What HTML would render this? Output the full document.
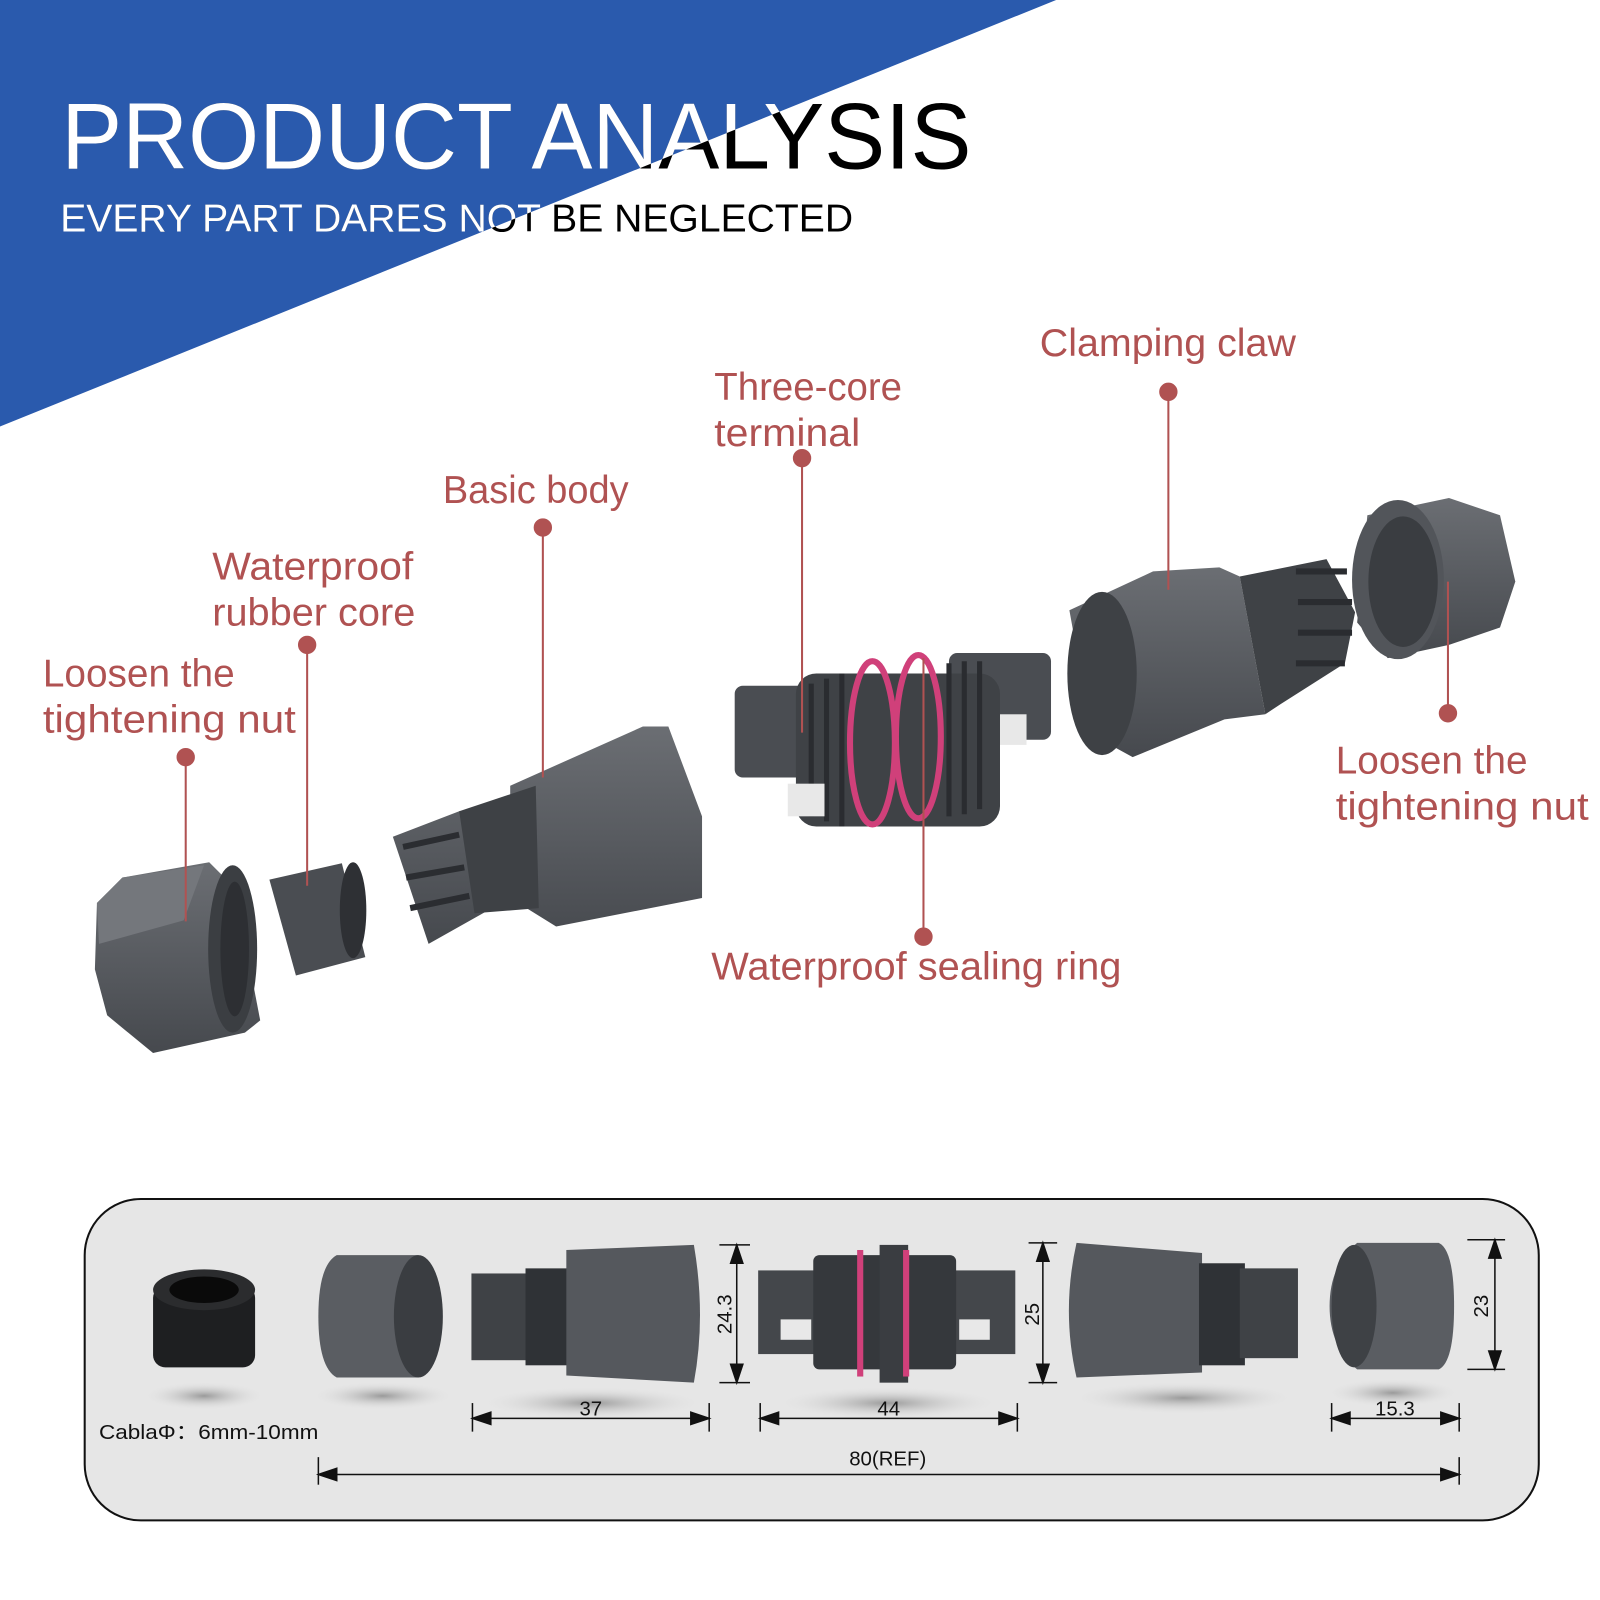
<!DOCTYPE html>
<html><head><meta charset="utf-8"><style>
html,body{margin:0;padding:0;background:#fff;width:1600px;height:1600px;overflow:hidden}
svg{display:block}
</style></head><body>
<svg width="1600" height="1600" viewBox="0 0 1568 1568" xmlns="http://www.w3.org/2000/svg" font-family="Liberation Sans, sans-serif">
<defs>
<clipPath id="tri"><polygon points="0,0 1035,0 0,418"/></clipPath>
<linearGradient id="g" x1="0" y1="0" x2="0" y2="1"><stop offset="0" stop-color="#6b6e73"/><stop offset="1" stop-color="#46494e"/></linearGradient>
<radialGradient id="sh"><stop offset="0" stop-color="#9a9a9a"/><stop offset="1" stop-color="#e6e6e6" stop-opacity="0"/></radialGradient>
</defs>
<polygon points="0,0 1035,0 0,418" fill="#2a5aad"/>
<g fill="#000">
<text x="60" y="165" font-size="92" textLength="892" lengthAdjust="spacingAndGlyphs">PRODUCT ANALYSIS</text>
<text x="59" y="227" font-size="38" textLength="777" lengthAdjust="spacingAndGlyphs">EVERY PART DARES NOT BE NEGLECTED</text>
</g>
<g fill="#fff" clip-path="url(#tri)">
<text x="60" y="165" font-size="92" textLength="892" lengthAdjust="spacingAndGlyphs">PRODUCT ANALYSIS</text>
<text x="59" y="227" font-size="38" textLength="777" lengthAdjust="spacingAndGlyphs">EVERY PART DARES NOT BE NEGLECTED</text>
</g>

<!-- exploded parts -->
<!-- left nut -->
<polygon points="95,885 120,860 205,845 230,870 255,1000 240,1012 150,1032 105,995 93,950" fill="url(#g)"/>
<polygon points="95,885 120,860 200,848 180,902 97,925" fill="#74777c"/>
<ellipse cx="228" cy="930" rx="24" ry="82" fill="#3b3e42"/>
<ellipse cx="230" cy="930" rx="14" ry="66" fill="#2d2f33"/>
<!-- rubber core -->
<polygon points="264,862 335,846 358,938 290,956" fill="#4a4d52"/>
<ellipse cx="346" cy="892" rx="13" ry="47" fill="#2e3034"/>
<!-- basic body -->
<polygon points="385,820 450,795 500,790 500,770 630,712 655,712 688,800 688,880 545,908 500,880 420,925 405,880" fill="url(#g)"/>
<polygon points="450,795 525,770 528,890 465,895" fill="#3e4145"/>
<g stroke="#2b2d31" stroke-width="6"><line x1="395" y1="830" x2="450" y2="818"/><line x1="398" y1="860" x2="455" y2="850"/><line x1="402" y1="890" x2="460" y2="878"/></g>
<!-- three-core terminal -->
<rect x="720" y="672" width="95" height="90" rx="8" fill="#4a4d52"/>
<rect x="930" y="640" width="100" height="85" rx="8" fill="#4a4d52"/>
<rect x="780" y="660" width="200" height="150" rx="20" fill="#3f4246"/>
<g stroke="#2a2c30" stroke-width="5" fill="none"><path d="M795 670 v130 M810 665 v140 M825 660 v150 M930 650 v150 M945 648 v150 M960 648 v145"/></g>
<ellipse cx="855" cy="728" rx="22" ry="80" fill="none" stroke="#d0407a" stroke-width="6"/>
<ellipse cx="900" cy="722" rx="22" ry="80" fill="none" stroke="#d0407a" stroke-width="6"/>
<rect x="772" y="768" width="36" height="32" fill="#e8e8e8"/>
<rect x="980" y="700" width="26" height="30" fill="#e8e8e8"/>
<!-- clamping claw -->
<polygon points="1048,598 1130,560 1195,556 1215,565 1240,700 1200,705 1110,742 1070,720" fill="url(#g)"/>
<ellipse cx="1080" cy="660" rx="34" ry="80" fill="#3e4145"/>
<polygon points="1215,565 1300,548 1328,600 1318,650 1255,690 1240,700" fill="#3f4246"/>
<g stroke="#2a2c30" stroke-width="6"><line x1="1270" y1="560" x2="1320" y2="560"/><line x1="1272" y1="590" x2="1325" y2="590"/><line x1="1272" y1="620" x2="1325" y2="620"/><line x1="1270" y1="650" x2="1318" y2="650"/></g>
<!-- right nut -->
<polygon points="1340,505 1420,488 1470,505 1485,570 1470,615 1420,632 1360,645 1330,610" fill="url(#g)"/>
<ellipse cx="1370" cy="568" rx="45" ry="78" fill="#52555a"/>
<ellipse cx="1375" cy="570" rx="34" ry="64" fill="#3a3d41"/>

<!-- labels -->
<g fill="#b05252" font-size="38">
<text x="42" y="673" textLength="188" lengthAdjust="spacingAndGlyphs">Loosen the</text>
<text x="42" y="718" textLength="248" lengthAdjust="spacingAndGlyphs">tightening nut</text>
<text x="208" y="568" textLength="197" lengthAdjust="spacingAndGlyphs">Waterproof</text>
<text x="208" y="613" textLength="199" lengthAdjust="spacingAndGlyphs">rubber core</text>
<text x="434" y="493" textLength="182" lengthAdjust="spacingAndGlyphs">Basic body</text>
<text x="700" y="392" textLength="184" lengthAdjust="spacingAndGlyphs">Three-core</text>
<text x="700" y="437" textLength="143" lengthAdjust="spacingAndGlyphs">terminal</text>
<text x="1019" y="349" textLength="251" lengthAdjust="spacingAndGlyphs">Clamping claw</text>
<text x="1309" y="758" textLength="188" lengthAdjust="spacingAndGlyphs">Loosen the</text>
<text x="1309" y="803" textLength="248" lengthAdjust="spacingAndGlyphs">tightening nut</text>
<text x="697" y="960" textLength="402" lengthAdjust="spacingAndGlyphs">Waterproof sealing ring</text>
</g>
<g stroke="#b05252" stroke-width="2" fill="#b05252">
<line x1="182" y1="742" x2="182" y2="903"/><circle cx="182" cy="742" r="8"/>
<line x1="301" y1="632" x2="301" y2="868"/><circle cx="301" cy="632" r="8"/>
<line x1="532" y1="517" x2="532" y2="762"/><circle cx="532" cy="517" r="8"/>
<line x1="786" y1="449" x2="786" y2="718"/><circle cx="786" cy="449" r="8"/>
<line x1="1145" y1="384" x2="1145" y2="578"/><circle cx="1145" cy="384" r="8"/>
<line x1="1419" y1="570" x2="1419" y2="699"/><circle cx="1419" cy="699" r="8"/>
<line x1="905" y1="645" x2="905" y2="918"/><circle cx="905" cy="918" r="8"/>
</g>

<!-- bottom panel -->
<rect x="83" y="1175" width="1425" height="315" rx="55" fill="#e6e6e6" stroke="#111" stroke-width="2"/>
<g>
<ellipse cx="200" cy="1368" rx="60" ry="14" fill="url(#sh)"/>
<ellipse cx="375" cy="1368" rx="70" ry="14" fill="url(#sh)"/>
<ellipse cx="580" cy="1375" rx="110" ry="16" fill="url(#sh)"/>
<ellipse cx="870" cy="1375" rx="110" ry="16" fill="url(#sh)"/>
<ellipse cx="1160" cy="1370" rx="110" ry="16" fill="url(#sh)"/>
<ellipse cx="1365" cy="1365" rx="65" ry="14" fill="url(#sh)"/>
</g>
<!-- cup -->
<rect x="150" y="1260" width="100" height="80" rx="12" fill="#1e1f21"/>
<ellipse cx="200" cy="1264" rx="50" ry="20" fill="#2b2c2e"/>
<ellipse cx="200" cy="1264" rx="34" ry="13" fill="#0a0a0a"/>
<!-- nut -->
<path d="M330 1230 H410 Q435 1290 410 1350 H330 Q312 1340 312 1290 Q312 1240 330 1230Z" fill="#5a5d62"/>
<ellipse cx="410" cy="1290" rx="24" ry="60" fill="#3a3d41"/>
<!-- body -->
<rect x="462" y="1248" width="60" height="85" fill="#3f4246"/>
<rect x="515" y="1243" width="45" height="95" fill="#2f3236"/>
<path d="M555 1225 L680 1220 Q692 1290 680 1355 L555 1348Z" fill="#55585d"/>
<!-- terminal -->
<rect x="743" y="1245" width="252" height="82" fill="#44474b"/>
<rect x="797" y="1230" width="140" height="112" rx="6" fill="#35383c"/>
<rect x="862" y="1220" width="28" height="135" fill="#3a3d41"/>
<rect x="840" y="1225" width="6" height="124" fill="#d0407a"/>
<rect x="885" y="1225" width="6" height="124" fill="#d0407a"/>
<rect x="765" y="1293" width="30" height="20" fill="#e8e8e8"/>
<rect x="940" y="1293" width="30" height="20" fill="#e8e8e8"/>
<!-- claw -->
<path d="M1055 1218 L1178 1228 L1178 1345 L1055 1350 Q1040 1285 1055 1218Z" fill="#55585d"/>
<rect x="1175" y="1238" width="45" height="100" fill="#2f3236"/>
<rect x="1215" y="1243" width="57" height="88" fill="#3f4246"/>
<!-- right nut -->
<path d="M1330 1218 H1410 Q1425 1225 1425 1280 Q1425 1335 1410 1342 H1330 Q1303 1320 1303 1280 Q1303 1240 1330 1218Z" fill="#5a5d62"/>
<ellipse cx="1327" cy="1280" rx="22" ry="60" fill="#3e4145"/>

<!-- dimensions -->
<g stroke="#111" stroke-width="1.5" fill="#111">
<line x1="722" y1="1220" x2="722" y2="1355"/><line x1="705" y1="1220" x2="735" y2="1220"/><line x1="705" y1="1355" x2="735" y2="1355"/>
<polygon points="722,1220 716,1238 728,1238"/><polygon points="722,1355 716,1337 728,1337"/>
<line x1="1022" y1="1218" x2="1022" y2="1355"/><line x1="1008" y1="1218" x2="1036" y2="1218"/><line x1="1008" y1="1355" x2="1036" y2="1355"/>
<polygon points="1022,1218 1016,1236 1028,1236"/><polygon points="1022,1355 1016,1337 1028,1337"/>
<line x1="1465" y1="1215" x2="1465" y2="1342"/><line x1="1438" y1="1215" x2="1475" y2="1215"/><line x1="1438" y1="1342" x2="1475" y2="1342"/>
<polygon points="1465,1215 1459,1233 1471,1233"/><polygon points="1465,1342 1459,1324 1471,1324"/>
<line x1="463" y1="1390" x2="695" y2="1390"/><line x1="463" y1="1375" x2="463" y2="1403"/><line x1="695" y1="1375" x2="695" y2="1403"/>
<polygon points="463,1390 481,1384 481,1396"/><polygon points="695,1390 677,1384 677,1396"/>
<line x1="745" y1="1390" x2="997" y2="1390"/><line x1="745" y1="1375" x2="745" y2="1403"/><line x1="997" y1="1375" x2="997" y2="1403"/>
<polygon points="745,1390 763,1384 763,1396"/><polygon points="997,1390 979,1384 979,1396"/>
<line x1="1305" y1="1390" x2="1430" y2="1390"/><line x1="1305" y1="1375" x2="1305" y2="1403"/><line x1="1430" y1="1375" x2="1430" y2="1403"/>
<polygon points="1305,1390 1323,1384 1323,1396"/><polygon points="1430,1390 1412,1384 1412,1396"/>
<line x1="312" y1="1445" x2="1430" y2="1445"/><line x1="312" y1="1428" x2="312" y2="1455"/><line x1="1430" y1="1428" x2="1430" y2="1455"/>
<polygon points="312,1445 330,1439 330,1451"/><polygon points="1430,1445 1412,1439 1412,1451"/>
</g>
<g fill="#111" font-size="20">
<text x="579" y="1387" text-anchor="middle">37</text>
<text x="871" y="1387" text-anchor="middle">44</text>
<text x="1367" y="1387" text-anchor="middle">15.3</text>
<text x="870" y="1436" text-anchor="middle">80(REF)</text>
<text x="97" y="1410" textLength="215" lengthAdjust="spacingAndGlyphs">CablaΦ：6mm-10mm</text>
<text transform="translate(717,1288) rotate(-90)" text-anchor="middle">24.3</text>
<text transform="translate(1018,1288) rotate(-90)" text-anchor="middle">25</text>
<text transform="translate(1458,1280) rotate(-90)" text-anchor="middle">23</text>
</g>
</svg>
</body></html>
